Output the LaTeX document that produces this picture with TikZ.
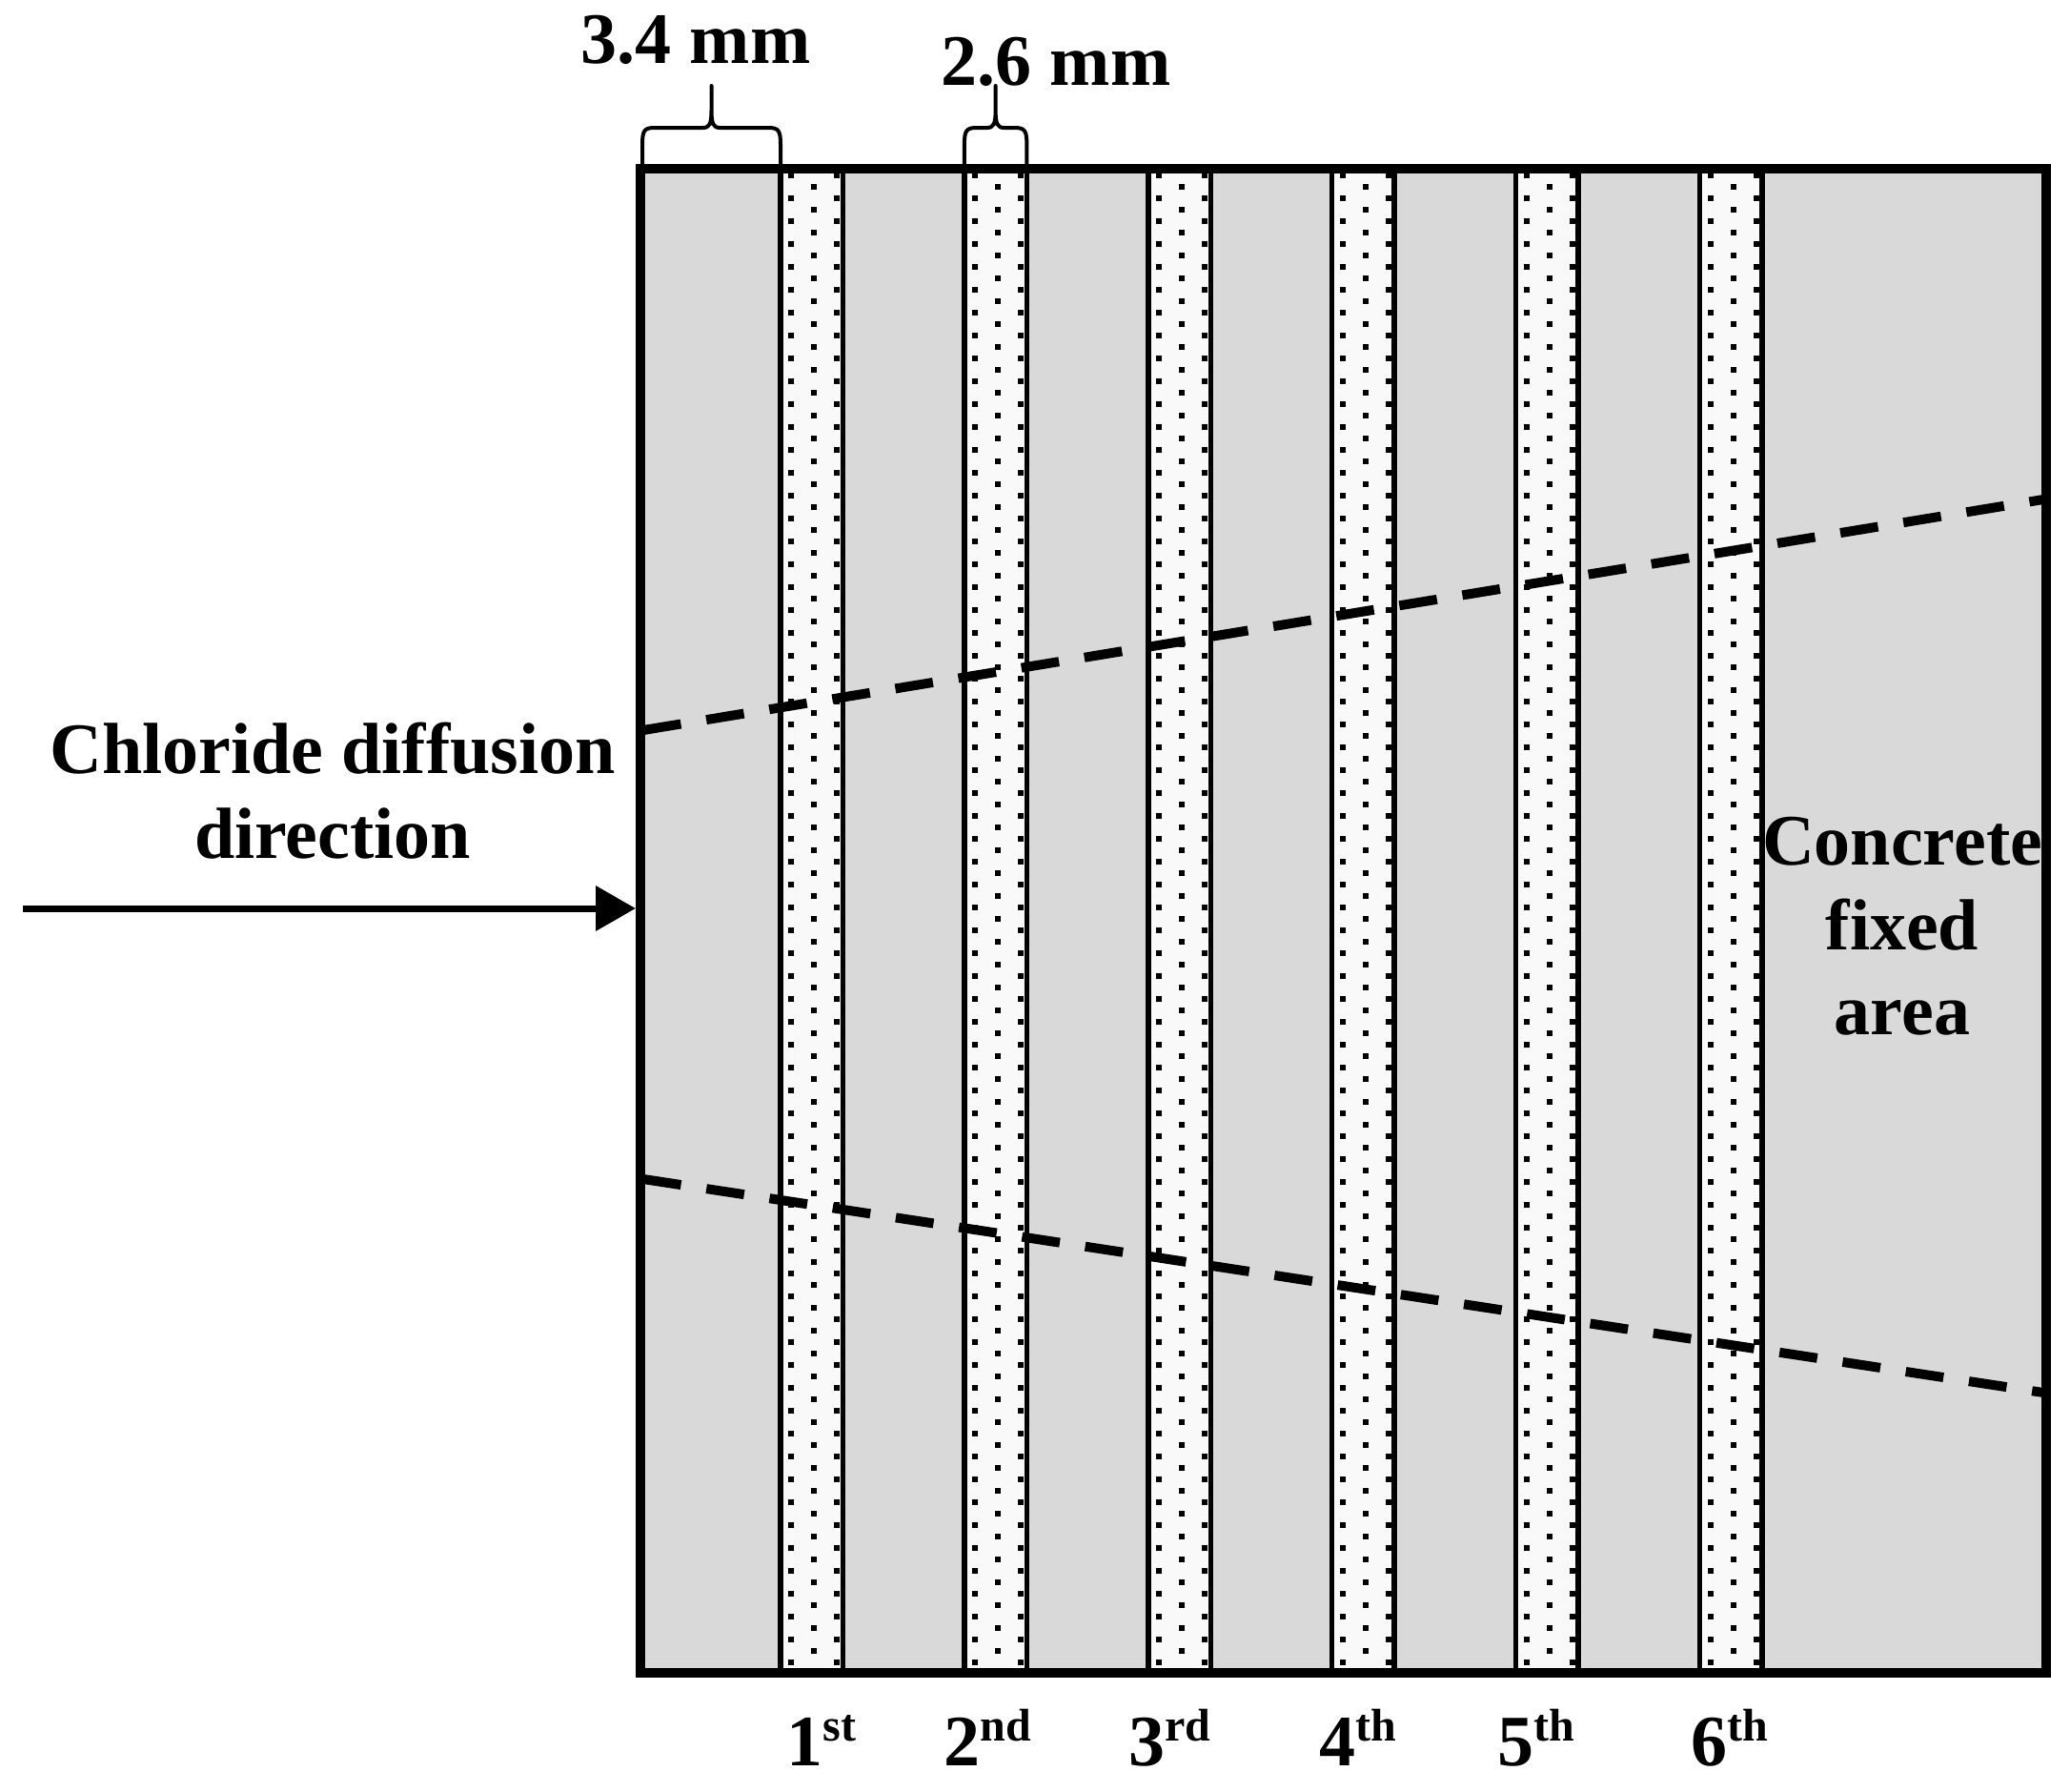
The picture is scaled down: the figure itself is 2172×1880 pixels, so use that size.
\documentclass[tikz,border=0pt]{standalone}
\usepackage{fontspec}
\setmainfont{Liberation Serif}
\usetikzlibrary{arrows.meta}
\definecolor{concrete}{RGB}{217,217,217}
\definecolor{stripfill}{RGB}{249,249,249}
\newcommand\ordlbl[2]{#1\raisebox{26pt}{\fontsize{48}{50}\selectfont #2}}
\begin{document}
\begin{tikzpicture}[x=1pt,y=-1pt,
  lbl/.style={font=\fontsize{76}{89}\selectfont\bfseries, inner sep=0pt},
  frame/.style={line width=10pt},
  stripline/.style={line width=5.5pt},
  dotmark/.style={fill=black},
  dashline/.style={line width=10pt, dash pattern=on 40pt off 27pt},
  bracepath/.style={line width=4pt, line join=round},
  arrowline/.style={line width=7pt, -{Triangle[length=42pt,width=46pt]}}]
\useasboundingbox (0,0) rectangle (2172,1880);
% concrete specimen
\node[fill=concrete, line width=10pt, inner sep=0pt, outer sep=5pt,
      minimum width=1475pt, minimum height=1578pt] (box) at (1409.5,966) {};
% sampling strips
\foreach \i [evaluate=\i as \xl using 819+192.9*\i] in {0,...,5} {
  \fill[stripfill] (\xl,177) rectangle (\xl+65.5,1755);
  \foreach \k in {0,...,65} {
    \fill[dotmark] (\xl+8,181+24*\k) rectangle ++(6,6);
    \fill[dotmark] (\xl+56,181+24*\k) rectangle ++(6,6);
  }
  \foreach \k in {0,...,64} {
    \fill[dotmark] (\xl+32,193+24*\k) rectangle ++(6,6);
  }
  \draw[stripline] (\xl,177) -- (\xl,1755);
  \draw[stripline] (\xl+65.5,177) -- (\xl+65.5,1755);
}
% dashed lines
\coordinate (ua) at (675,766);
\coordinate (ub) at (2144,524);
\coordinate (la) at (675,1237);
\coordinate (lb) at (2144,1461);
\draw[dashline] (ua) -- (ub);
\draw[dashline] (la) -- (lb);
% frame
\draw[frame] (672,177) rectangle (2147,1755);
% braces
\def\bracetip#1#2#3{%
  \draw[bracepath] (#1,177) -- (#1,152) .. controls (#1,137) and (#1+2,134) .. (#1+13,134)
    -- (#3-9,134) .. controls (#3-2,134) and (#3,130) .. (#3,116) -- (#3,90)
    -- (#3,116) .. controls (#3,130) and (#3+2,134) .. (#3+9,134)
    -- (#2-13,134) .. controls (#2-2,134) and (#2,137) .. (#2,152) -- (#2,177);}
\bracetip{674}{819}{746.5}
\bracetip{1011.9}{1077.4}{1044.6}
\node[lbl, anchor=base] (d34) at (730,66) {3.4 mm};
\node[lbl, anchor=base] (d26) at (1108,89) {2.6 mm};
% arrow
\coordinate (arrowstart) at (24,953);
\draw[arrowline] (arrowstart) -- (box.west |- arrowstart);
\node[lbl, anchor=base, align=center] (chl) at (349,900) {Chloride diffusion\\direction};
\node[lbl, anchor=base, align=center] (cfa) at (1996,1085) {Concrete\\fixed\\area};
% strip labels
\node[lbl, anchor=base] (s1) at (862,1852) {\ordlbl{1}{st}};
\node[lbl, anchor=base] (s2) at (1036,1852) {\ordlbl{2}{nd}};
\node[lbl, anchor=base] (s3) at (1227,1852) {\ordlbl{3}{rd}};
\node[lbl, anchor=base] (s4) at (1425,1852) {\ordlbl{4}{th}};
\node[lbl, anchor=base] (s5) at (1612,1852) {\ordlbl{5}{th}};
\node[lbl, anchor=base] (s6) at (1815,1852) {\ordlbl{6}{th}};
\end{tikzpicture}
\end{document}
